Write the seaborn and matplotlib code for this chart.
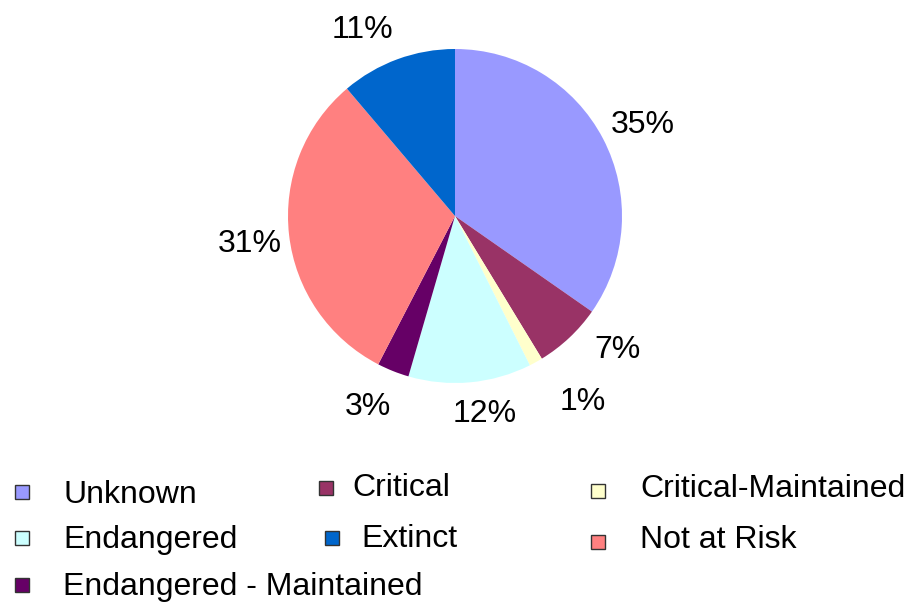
import matplotlib
matplotlib.use("Agg")
import matplotlib.pyplot as plt
from matplotlib.patches import Rectangle
import seaborn as sns

categories = ["Unknown", "Critical", "Critical-Maintained", "Endangered",
              "Endangered - Maintained", "Not at Risk", "Extinct"]
shares = [34.7, 6.6, 1.3, 11.9, 3.1, 31.2, 11.2]
colors = ["#9999FF", "#993366", "#FFFFCC", "#CCFFFF", "#660066", "#FF8080", "#0066CC"]

# label nudges (pixels) to mimic the original label placement
label_nudge = [(3, -6), (20, 18), (27, -3), (11, 10), (-10, 3), (2, -4), (-21, -10)]

sns.set_theme(style="white")
plt.rcParams["font.family"] = ["Liberation Sans", "DejaVu Sans"]

W, H = 908, 607
fs = 23
fig = plt.figure(figsize=(W / 100, H / 100), dpi=100)
cx, cy, R = 455, 216, 167
lim = 1.2
side = 2 * lim * R
ax = fig.add_axes([(cx - side / 2) / W, (H - cy - side / 2) / H, side / W, side / H])

wedges, texts, autotexts = ax.pie(
    shares, colors=colors, startangle=90, counterclock=False,
    autopct="%.0f%%", pctdistance=1.25, radius=1,
    wedgeprops=dict(linewidth=0),
    textprops=dict(fontsize=fs, color="black"),
)
for t, (dx, dy) in zip(autotexts, label_nudge):
    x, y = t.get_position()
    t.set_position((x + dx / R, y + dy / R))
    t.set_ha("center")
    t.set_va("center")
ax.set_xlim(-lim, lim)
ax.set_ylim(-lim, lim)
ax.set_aspect("equal")
ax.axis("off")

# legend layout (pixel positions of marker centers and text starts/baselines)
legend_layout = {
    "Unknown": ((22, 492), (63, 503)),
    "Critical": ((326, 488), (352, 496)),
    "Critical-Maintained": ((598, 491), (640, 497)),
    "Endangered": ((22, 538), (63, 548)),
    "Extinct": ((332, 538), (361, 547)),
    "Not at Risk": ((598, 542), (640, 548)),
    "Endangered - Maintained": ((22, 585), (63, 595)),
}
msz = 14
for cat, col in zip(categories, colors):
    (mx, my), (tx, ty) = legend_layout[cat]
    fig.patches.append(Rectangle(((mx - msz / 2) / W, 1 - (my + msz / 2) / H),
                                 msz / W, msz / H, transform=fig.transFigure,
                                 facecolor=col, edgecolor="#333333", linewidth=1.0))
    fig.text(tx / W, 1 - ty / H, cat, fontsize=fs, ha="left", va="baseline", color="black")

fig.savefig("out.png", dpi=100, facecolor="white")
